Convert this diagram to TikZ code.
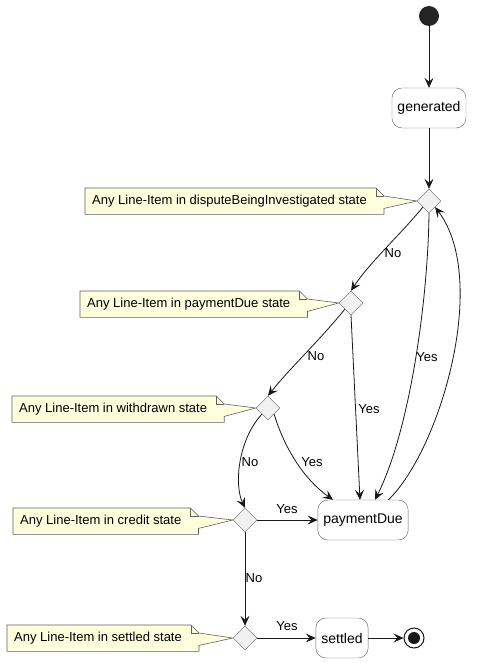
\documentclass[tikz,border=0pt]{standalone}
\usepackage{fontspec}
\setmainfont{Liberation Sans}
\usepackage{tikz}
\usetikzlibrary{arrows.meta,positioning,shapes.geometric,backgrounds}
\definecolor{notebg}{HTML}{FEFFDD}
\definecolor{choicebg}{HTML}{F1F1F1}
\definecolor{linecol}{HTML}{181818}

\begin{document}
\begin{tikzpicture}[
  x=1pt,y=-1pt,
  font=\fontsize{13}{15}\selectfont,
  state/.style={draw=gray!75!black,rounded corners=10pt,minimum height=40pt,inner xsep=5.5pt,fill=white,font=\fontsize{14}{16}\selectfont},
  choice/.style={diamond,draw=gray!75!black,fill=choicebg,minimum size=24pt,inner sep=0pt},
  note/.style={minimum height=26pt,inner xsep=7pt,inner ysep=0pt,anchor=north west},
  notebox/.style={draw=gray!75!black,fill=notebg,line width=0.6pt},
  arr/.style={-{Stealth[length=10pt,width=9pt,inset=4pt]},line width=0.8pt,draw=linecol},
  lbl/.style={inner sep=1pt}
]
\useasboundingbox (0,0) rectangle (476,663);

% ---- states and decisions ----
\node[circle,fill=linecol!95,minimum size=20pt,inner sep=0pt] (start) at (429,16) {};
\node[state] (gen) at (429,108) {generated};
\node[choice] (d1) at (429,201) {};
\node[choice] (d2) at (351,303) {};
\node[choice] (d3) at (268,408) {};
\node[choice] (d4) at (245,520) {};
\node[choice] (d5) at (245,638) {};
\node[state] (pd) at (363,520) {paymentDue};
\node[state] (settled) at (342,638) {settled};
\node[circle,draw=linecol,line width=1pt,fill=white,minimum size=20pt,inner sep=0pt] (stop) at (414,638) {};
\node[circle,fill=linecol,minimum size=12pt,inner sep=0pt] (stopdot) at (stop) {};

% ---- notes ----
\node[note] (n1) at (85,188) {Any Line-Item in disputeBeingInvestigated state};
\node[note] (n2) at (80,291) {Any Line-Item in paymentDue state};
\node[note] (n3) at (12,396) {Any Line-Item in withdrawn state};
\node[note] (n4) at (13,508) {Any Line-Item in credit state};
\node[note] (n5) at (7,625) {Any Line-Item in settled state};
\begin{scope}[on background layer]
\foreach \n/\d in {n1/d1,n2/d2,n3/d3,n4/d4,n5/d5}{
  \draw[notebox] (\n.north west) -- ([xshift=2pt]\n.north east)
    -- ([xshift=10pt,yshift=-8pt]\n.north east) -- (\d.west)
    -- ([xshift=10pt,yshift=6pt]\n.south east) -- ([xshift=10pt]\n.south east)
    -- (\n.south west) -- cycle;
  \draw[notebox,fill=none] ([xshift=2pt]\n.north east) -- ([xshift=2pt,yshift=-8pt]\n.north east)
    -- ([xshift=10pt,yshift=-8pt]\n.north east);
}
\end{scope}

% ---- connectors ----
\draw[arr] (start) -- (gen);
\draw[arr] (gen) -- (d1);
\draw[arr] (d1.south west) .. controls (400,235) and (370,262) .. (d2.north);
\draw[arr] (d1.south) .. controls (428,300) and (410,430) .. ([xshift=12pt]pd.north);
\draw[arr] ([xshift=-20pt]pd.north east) .. controls (440,450) and (490,280) .. (d1.south east);
\draw[arr] (d2.south west) .. controls (320,340) and (290,368) .. (d3.north);
\draw[arr] (d2.south) -- ([xshift=-3pt]pd.north);
\draw[arr] (d3.south west) .. controls (238,440) and (234,485) .. (d4.north);
\draw[arr] (d3.south east) .. controls (285,450) and (305,480) .. ([xshift=-30pt]pd.north);
\draw[arr] (d4) -- (pd);
\draw[arr] (d4) -- (d5);
\draw[arr] (d5) -- (settled);
\draw[arr] (settled) -- (stop);

% ---- branch labels ----
\node[lbl] (l1) at (393,253) {No};
\node[lbl] (l2) at (427,357) {Yes};
\node[lbl] (l3) at (316,356) {No};
\node[lbl] (l4) at (369,409) {Yes};
\node[lbl] (l5) at (250,462) {No};
\node[lbl] (l6) at (312,462) {Yes};
\node[lbl] (l7) at (287,509) {Yes};
\node[lbl] (l8) at (254,578) {No};
\node[lbl] (l9) at (287,626) {Yes};
\end{tikzpicture}
\end{document}
